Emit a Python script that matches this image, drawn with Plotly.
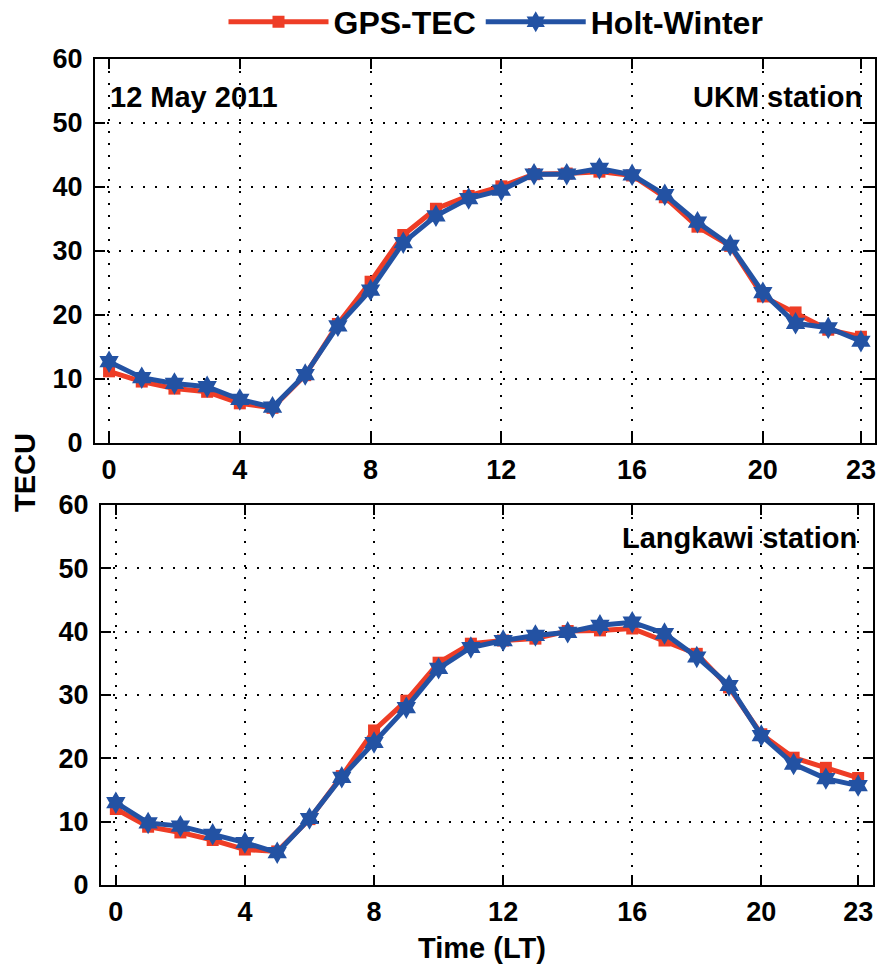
import plotly.graph_objects as go

# Local time (hours) of each hourly TEC value
hours = list(range(24))

# UKM station, 12 May 2011
gps_ukm = [11.2, 9.6, 8.5, 8.0, 6.2, 5.5, 10.6, 18.6, 25.2, 32.5, 36.6, 38.6,
           40.1, 42.0, 42.1, 42.4, 41.8, 38.4, 33.8, 30.8, 22.9, 20.4, 17.7, 16.6]
hw_ukm = [12.7, 10.2, 9.3, 8.8, 6.8, 5.6, 10.7, 18.3, 23.9, 31.3, 35.5, 38.2,
          39.5, 42.0, 42.0, 42.9, 41.9, 38.8, 34.5, 30.9, 23.5, 18.7, 18.0, 15.9]

# Langkawi station, 12 May 2011
gps_lkw = [12.0, 9.2, 8.3, 7.1, 5.6, 5.3, 10.4, 17.2, 24.4, 29.1, 35.1, 38.1,
           38.6, 38.9, 40.1, 40.2, 40.5, 38.6, 36.5, 31.2, 23.8, 20.1, 18.5, 16.9]
hw_lkw = [13.0, 9.8, 9.3, 8.0, 6.7, 5.1, 10.5, 17.0, 22.5, 28.0, 34.2, 37.5,
          38.6, 39.4, 39.9, 41.0, 41.5, 39.7, 36.0, 31.5, 23.6, 19.1, 16.8, 15.7]

x_ticks = [0, 4, 8, 12, 16, 20, 23]
y_ticks = [0, 10, 20, 30, 40, 50, 60]

RED = "#EE3D26"
BLUE = "#2352A3"
FONT = "Arial"
W, H = 877, 974

fig = go.Figure()

panels = [("x", "y", gps_ukm, hw_ukm, True), ("x2", "y2", gps_lkw, hw_lkw, False)]
for xa, ya, gps, hw, show in panels:
    fig.add_trace(go.Scatter(
        x=hours, y=gps, xaxis=xa, yaxis=ya, name="GPS-TEC", showlegend=show,
        mode="lines+markers", line=dict(color=RED, width=5),
        marker=dict(symbol="square", size=12, color=RED)))
    fig.add_trace(go.Scatter(
        x=hours, y=hw, xaxis=xa, yaxis=ya, name="Holt-Winter", showlegend=show,
        mode="lines+markers", line=dict(color=BLUE, width=5),
        marker=dict(symbol="hexagram", size=17, color=BLUE)))

tick_font = dict(family=FONT, size=27, color="black", weight="bold")
common = dict(showline=True, linecolor="black", linewidth=2, mirror="ticks",
              ticks="inside", ticklen=10, tickwidth=2, tickcolor="black",
              showgrid=True, gridcolor="black", gridwidth=2.2, griddash="2.2px,9.8px",
              zeroline=False, automargin=False, tickfont=tick_font)

def px_x(p):
    return p / W

def px_y(p):
    return 1 - p / H

fig.update_layout(
    width=W, height=H,
    margin=dict(l=0, r=0, t=0, b=0, pad=0, autoexpand=False),
    paper_bgcolor="white", plot_bgcolor="white",
    xaxis=dict(domain=[px_x(95), px_x(875)], range=[-0.43, 23.43], anchor="y",
               tickvals=x_ticks, ticklabelstandoff=2, **common),
    yaxis=dict(domain=[px_y(443), px_y(59)], range=[0, 60], anchor="x",
               tickvals=y_ticks, ticklabelstandoff=5, **common),
    xaxis2=dict(domain=[px_x(101), px_x(873)], range=[-0.46, 23.46], anchor="y2",
                tickvals=x_ticks, ticklabelstandoff=2, **common),
    yaxis2=dict(domain=[px_y(885), px_y(505)], range=[0, 60], anchor="x2",
                tickvals=y_ticks, ticklabelstandoff=5, **common),
    legend=dict(orientation="h", x=px_x(496), xanchor="center",
                y=px_y(22), yanchor="middle", itemwidth=100,
                font=dict(family=FONT, size=32, color="black", weight="bold"),
                bgcolor="rgba(0,0,0,0)"),
    showlegend=True,
)

ann_font = dict(family=FONT, size=29, color="black", weight="bold")
fig.add_annotation(text="12 May 2011", xref="paper", yref="paper",
                   x=px_x(108), y=px_y(97), xanchor="left", yanchor="middle",
                   showarrow=False, font=ann_font)
fig.add_annotation(text="UKM station", xref="paper", yref="paper",
                   x=px_x(864), y=px_y(97), xanchor="right", yanchor="middle",
                   showarrow=False, font=ann_font)
fig.add_annotation(text="Langkawi station", xref="paper", yref="paper",
                   x=px_x(859), y=px_y(538), xanchor="right", yanchor="middle",
                   showarrow=False, font=ann_font)
fig.add_annotation(text="TECU", xref="paper", yref="paper",
                   x=px_x(25), y=px_y(473), xanchor="center", yanchor="middle",
                   textangle=-90, showarrow=False, font=ann_font)
fig.add_annotation(text="Time (LT)", xref="paper", yref="paper",
                   x=px_x(482), y=px_y(948), xanchor="center", yanchor="middle",
                   showarrow=False, font=ann_font)

fig.write_html("out.html")
